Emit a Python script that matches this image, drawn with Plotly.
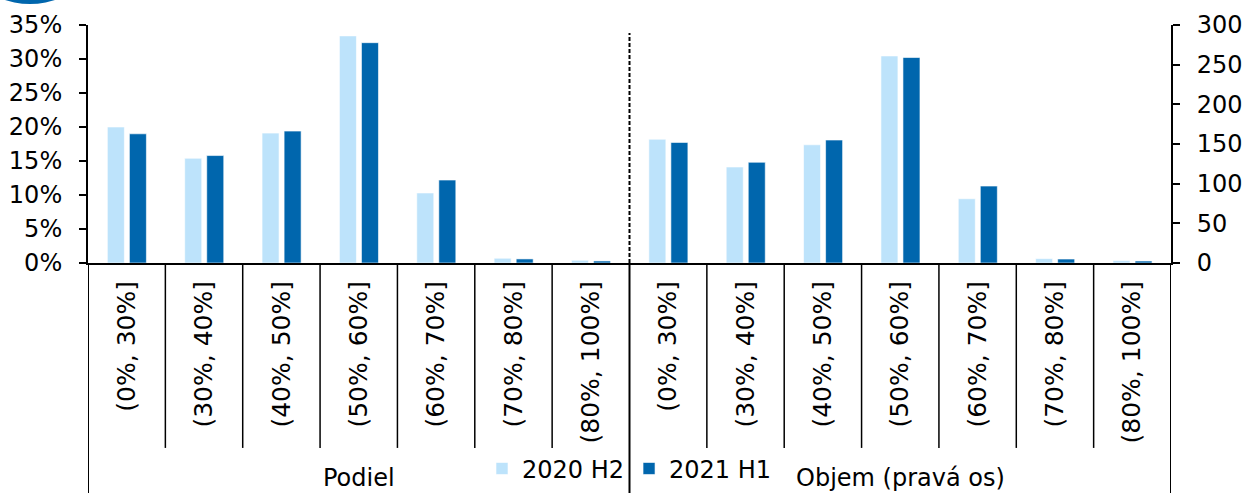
import plotly.graph_objects as go

# Loan-to-value bands
categories = ["(0%, 30%]", "(30%, 40%]", "(40%, 50%]", "(50%, 60%]",
              "(60%, 70%]", "(70%, 80%]", "(80%, 100%]"]
series_names = ["2020 H2", "2021 H1"]

# Share of new loans (%), left axis
podiel_2020h2 = [20.0, 15.4, 19.1, 33.4, 10.3, 0.7, 0.4]
podiel_2021h1 = [19.0, 15.8, 19.4, 32.4, 12.2, 0.6, 0.3]

# Volume, right axis
objem_2020h2 = [156, 121, 149, 261, 81, 5.5, 3.0]
objem_2021h1 = [152, 127, 155, 259, 97, 5.0, 2.5]

group_labels = ["Podiel", "Objem (pravá os)"]
left_ticks = [0, 5, 10, 15, 20, 25, 30, 35]
right_ticks = [0, 50, 100, 150, 200, 250, 300]

LIGHT = "#BDE3FB"
DARK = "#0066AD"
FONT = "DejaVu Sans"
FS = 24

n = len(categories)
x_left = [i + 0.5 for i in range(n)]
x_right = [n + i + 0.5 for i in range(n)]

fig = go.Figure()
bar_w = 0.22
for vals, xs, axis, name, color, off, show in [
    (podiel_2020h2, x_left, "y", series_names[0], LIGHT, -0.25, True),
    (podiel_2021h1, x_left, "y", series_names[1], DARK, 0.035, True),
    (objem_2020h2, x_right, "y2", series_names[0], LIGHT, -0.25, False),
    (objem_2021h1, x_right, "y2", series_names[1], DARK, 0.035, False),
]:
    fig.add_trace(go.Bar(
        x=xs, y=vals, yaxis=axis, name=name, legendgroup=name,
        showlegend=show, width=bar_w, offset=off,
        marker=dict(color=color, line=dict(color="white", width=0.6)),
    ))

# Category dividers below the axis
shapes = []
for k in range(2 * n + 1):
    full = k in (0, n, 2 * n)
    shapes.append(dict(type="line", xref="x", yref="paper",
                       x0=k, x1=k, y0=0, y1=-1.0 if full else -0.777,
                       line=dict(color="black", width=2 if full else 1.5)))
# Dashed divider between the two panels
shapes.append(dict(type="line", xref="x", yref="paper", x0=n, x1=n,
                   y0=0, y1=0.966, line=dict(color="black", width=2, dash="4px,2px")))
# Logo arc in the top-left corner
shapes.append(dict(type="circle", xref="paper", yref="paper",
                   x0=(-50 - 88) / 1083, x1=(110 - 88) / 1083,
                   y0=(263 - (-156)) / 238, y1=(263 - 4) / 238,
                   fillcolor=DARK, line=dict(width=0)))

annotations = [
    dict(text=group_labels[0], x=n / 2, xref="x", y=-0.904, yref="paper",
         showarrow=False, font=dict(family=FONT, size=FS, color="black"),
         yanchor="middle"),
    dict(text=group_labels[1], x=n + n / 2, xref="x", y=-0.904, yref="paper",
         showarrow=False, font=dict(family=FONT, size=FS, color="black"),
         yanchor="middle"),
]

fig.update_layout(
    width=1242, height=493,
    margin=dict(l=88, r=71, t=25, b=230, autoexpand=False),
    paper_bgcolor="white", plot_bgcolor="white",
    barmode="overlay",
    font=dict(family=FONT, size=FS, color="black"),
    showlegend=True,
    legend=dict(orientation="h", x=0.5, xanchor="center",
                y=-0.865, yanchor="middle", bgcolor="rgba(0,0,0,0)",
                font=dict(family=FONT, size=FS), itemwidth=30,
                tracegroupgap=0),
    xaxis=dict(range=[0, 2 * n], tickvals=x_left + x_right,
               ticktext=categories + categories, tickangle=-90,
               ticks="", showgrid=False, zeroline=False,
               showline=True, linecolor="black", linewidth=2,
               ticklabelstandoff=6, automargin=False,
               tickfont=dict(family=FONT, size=25)),
    yaxis=dict(range=[0, 35], tickvals=left_ticks,
               ticktext=[f"{v}%" for v in left_ticks],
               showgrid=False, zeroline=False, showline=True,
               linecolor="black", linewidth=2, ticks="outside",
               ticklen=7, tickwidth=2, tickcolor="black",
               ticklabelstandoff=12, automargin=False),
    yaxis2=dict(range=[0, 300], tickvals=right_ticks, overlaying="y",
                side="right", showgrid=False, zeroline=False,
                showline=True, linecolor="black", linewidth=2,
                ticks="outside", ticklen=7, tickwidth=2,
                tickcolor="black", ticklabelstandoff=12, automargin=False),
    shapes=shapes,
    annotations=annotations,
)

fig.write_html("out.html")
